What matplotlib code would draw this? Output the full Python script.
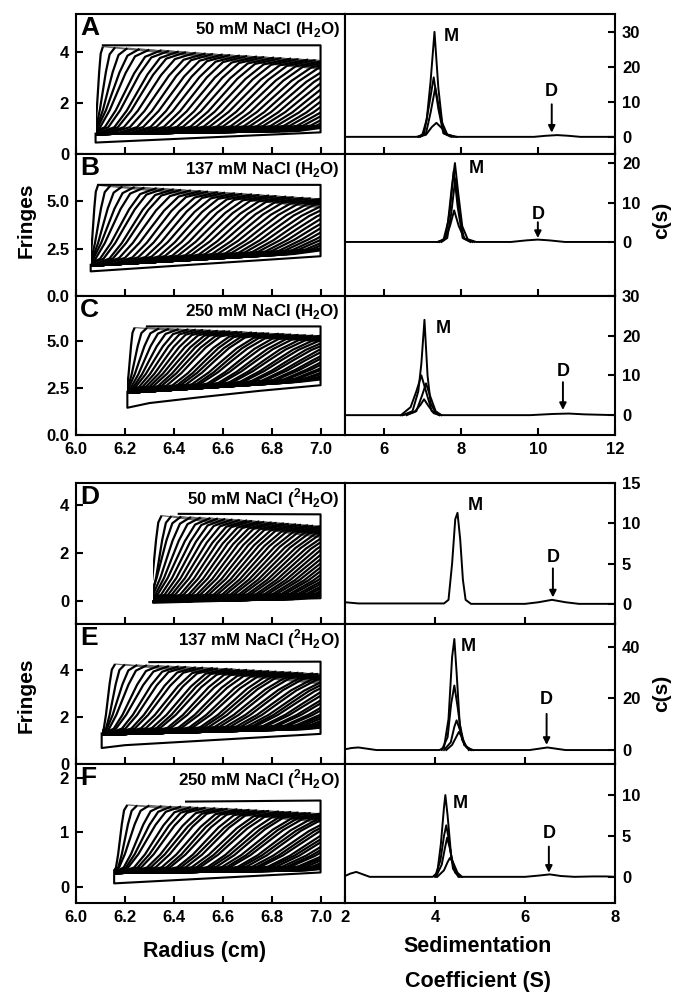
import numpy as np
import matplotlib
matplotlib.use('Agg')
import matplotlib.pyplot as plt
from matplotlib.collections import LineCollection
from matplotlib.patches import Rectangle

plt.rcParams['font.family'] = ['Liberation Sans', 'DejaVu Sans']
plt.rcParams['font.weight'] = 'bold'
plt.rcParams['mathtext.fontset'] = 'custom'
plt.rcParams['mathtext.rm'] = 'Liberation Sans:bold'
plt.rcParams['mathtext.bf'] = 'Liberation Sans:bold'
plt.rcParams['axes.linewidth'] = 1.5

# ---------------- left column: interference scans (Fringes vs radius) ----------------
# boundary shape shared by all scans (offset in half-widths, fraction of plateau)
SHAPE_DX = [-1.0, -0.55, -0.25, 0.0, 0.25, 0.55, 1.0]
SHAPE_FRAC = [0.0, 0.08, 0.28, 0.5, 0.72, 0.92, 1.0]

WID_42 = [0.02, 0.05, 0.08, 0.11, 0.13, 0.15, 0.16, 0.17, 0.18, 0.19, 0.20, 0.20, 0.21, 0.21,
          0.22, 0.22, 0.23, 0.23, 0.24, 0.24, 0.25, 0.25, 0.26, 0.26, 0.27, 0.27, 0.28, 0.28,
          0.29, 0.29, 0.30, 0.30, 0.31, 0.31, 0.32, 0.32, 0.33, 0.33, 0.34, 0.34, 0.35, 0.35]
WID_46 = [0.02, 0.05, 0.08, 0.10, 0.12, 0.14, 0.15, 0.16, 0.17, 0.18, 0.19, 0.19, 0.20, 0.20,
          0.21, 0.21, 0.22, 0.22, 0.23, 0.23, 0.24, 0.24, 0.25, 0.25, 0.26, 0.26, 0.27, 0.27,
          0.28, 0.28, 0.29, 0.29, 0.30, 0.30, 0.31, 0.31, 0.32, 0.32, 0.33, 0.33, 0.34, 0.34,
          0.35, 0.35, 0.36, 0.36]
WID_50 = [0.03, 0.05, 0.08, 0.10, 0.12, 0.14, 0.15, 0.16, 0.17, 0.18, 0.19, 0.19, 0.20, 0.20,
          0.21, 0.21, 0.22, 0.22, 0.23, 0.23, 0.24, 0.24, 0.25, 0.25, 0.26, 0.26, 0.27, 0.27,
          0.28, 0.28, 0.29, 0.29, 0.30, 0.30, 0.31, 0.31, 0.32, 0.32, 0.33, 0.33, 0.34, 0.34,
          0.35, 0.35, 0.36, 0.36, 0.37, 0.37, 0.38, 0.38]

# A: 50 mM NaCl (H2O)
A_MEN = 6.08
A_MID = [6.09, 6.11, 6.13, 6.15, 6.17, 6.20, 6.22, 6.25, 6.27, 6.30, 6.33, 6.36, 6.39, 6.42,
         6.45, 6.48, 6.51, 6.54, 6.57, 6.60, 6.63, 6.66, 6.69, 6.72, 6.75, 6.78, 6.81, 6.84,
         6.87, 6.90, 6.93, 6.96, 6.99, 7.02, 7.05, 7.08, 7.11, 7.14, 7.17, 7.20, 7.23, 7.26]
A_TOP = [4.22, 4.19, 4.16, 4.13, 4.10, 4.08, 4.05, 4.03, 4.00, 3.98, 3.95, 3.93, 3.91, 3.89,
         3.87, 3.85, 3.83, 3.81, 3.79, 3.77, 3.75, 3.73, 3.71, 3.69, 3.67, 3.65, 3.63, 3.61,
         3.59, 3.57, 3.55, 3.53, 3.51, 3.49, 3.47, 3.45, 3.43, 3.41, 3.39, 3.37, 3.35, 3.33]
A_SLOPE = 1.0
A_BASE_X = [6.08, 7.0]
A_BASE_Y = [0.78, 0.92]
A_OUT_X = [6.08, 6.08, 7.0, 7.0, 6.11]
A_OUT_Y = [0.80, 0.45, 0.85, 4.27, 4.27]

# B: 137 mM NaCl (H2O)
B_MEN = 6.06
B_MID = [6.07, 6.09, 6.11, 6.13, 6.15, 6.18, 6.20, 6.23, 6.25, 6.28, 6.31, 6.34, 6.37, 6.40,
         6.43, 6.46, 6.49, 6.52, 6.55, 6.58, 6.61, 6.64, 6.67, 6.70, 6.73, 6.76, 6.79, 6.82,
         6.85, 6.88, 6.91, 6.94, 6.97, 7.00, 7.03, 7.06, 7.09, 7.12, 7.15, 7.18, 7.21, 7.24]
B_TOP = [5.85, 5.82, 5.79, 5.76, 5.73, 5.70, 5.67, 5.64, 5.61, 5.58, 5.55, 5.52, 5.49, 5.46,
         5.43, 5.40, 5.37, 5.34, 5.31, 5.28, 5.25, 5.22, 5.19, 5.16, 5.13, 5.10, 5.07, 5.04,
         5.01, 4.98, 4.95, 4.92, 4.89, 4.86, 4.84, 4.82, 4.80, 4.78, 4.76, 4.74, 4.72, 4.70]
B_SLOPE = 1.3
B_BASE_X = [6.06, 7.0]
B_BASE_Y = [1.60, 2.30]
B_OUT_X = [6.06, 6.06, 7.0, 7.0, 6.09]
B_OUT_Y = [1.65, 1.30, 2.10, 5.87, 5.87]

# C: 250 mM NaCl (H2O)
C_MEN = 6.21
C_MID = [6.22, 6.24, 6.26, 6.28, 6.30, 6.32, 6.34, 6.36, 6.38, 6.40, 6.42, 6.44, 6.46, 6.48,
         6.51, 6.53, 6.55, 6.57, 6.60, 6.62, 6.64, 6.67, 6.69, 6.72, 6.74, 6.77, 6.79, 6.82,
         6.84, 6.87, 6.89, 6.92, 6.94, 6.97, 6.99, 7.02, 7.04, 7.07, 7.09, 7.12, 7.14, 7.17,
         7.19, 7.22, 7.24, 7.27]
C_TOP = [5.72, 5.70, 5.68, 5.66, 5.64, 5.63, 5.61, 5.59, 5.57, 5.55, 5.53, 5.52, 5.50, 5.48,
         5.46, 5.44, 5.42, 5.41, 5.39, 5.37, 5.35, 5.33, 5.31, 5.30, 5.28, 5.26, 5.24, 5.22,
         5.20, 5.19, 5.17, 5.15, 5.13, 5.11, 5.09, 5.08, 5.06, 5.04, 5.02, 5.00, 4.98, 4.97,
         4.96, 4.95, 4.94, 4.93]
C_SLOPE = 1.0
C_BASE_X = [6.21, 7.0]
C_BASE_Y = [2.25, 2.90]
C_OUT_X = [6.21, 6.21, 6.30, 6.50, 6.75, 7.0, 7.0, 6.29]
C_OUT_Y = [2.30, 1.45, 1.70, 2.00, 2.35, 2.65, 5.78, 5.78]

# D: 50 mM NaCl (2H2O)
D_MEN = 6.315
D_MID = [6.32, 6.34, 6.35, 6.37, 6.39, 6.41, 6.43, 6.45, 6.47, 6.49, 6.51, 6.53, 6.55, 6.57,
         6.59, 6.61, 6.63, 6.65, 6.67, 6.69, 6.71, 6.73, 6.75, 6.77, 6.79, 6.81, 6.83, 6.85,
         6.87, 6.89, 6.91, 6.93, 6.95, 6.97, 6.99, 7.01, 7.03, 7.05, 7.07, 7.09, 7.11, 7.13,
         7.15, 7.17, 7.19, 7.21, 7.23, 7.25, 7.27, 7.29]
D_TOP = [3.55, 3.53, 3.51, 3.49, 3.47, 3.45, 3.43, 3.41, 3.39, 3.37, 3.35, 3.33, 3.31, 3.29,
         3.27, 3.25, 3.23, 3.21, 3.19, 3.17, 3.15, 3.13, 3.11, 3.09, 3.07, 3.05, 3.03, 3.01,
         2.99, 2.97, 2.95, 2.93, 2.91, 2.89, 2.87, 2.85, 2.83, 2.81, 2.79, 2.77, 2.75, 2.73,
         2.71, 2.69, 2.67, 2.65, 2.63, 2.61, 2.59, 2.57]
D_SLOPE = 1.4
D_BASE_X = [6.315, 7.0]
D_BASE_Y = [-0.02, 0.10]
D_OUT_X = [6.315, 6.315, 7.0, 7.0, 6.42]
D_OUT_Y = [0.00, -0.07, 0.12, 3.60, 3.62]

# E: 137 mM NaCl (2H2O)
E_MEN = 6.105
E_MID = [6.13, 6.15, 6.17, 6.19, 6.22, 6.24, 6.27, 6.29, 6.32, 6.34, 6.37, 6.39, 6.42, 6.44,
         6.46, 6.49, 6.51, 6.54, 6.56, 6.59, 6.61, 6.64, 6.66, 6.68, 6.71, 6.73, 6.76, 6.78,
         6.81, 6.83, 6.86, 6.88, 6.90, 6.93, 6.95, 6.98, 7.00, 7.03, 7.05, 7.08, 7.10, 7.12,
         7.15, 7.17, 7.20, 7.22, 7.25, 7.27, 7.30, 7.32]
E_TOP = [4.25, 4.23, 4.21, 4.20, 4.18, 4.16, 4.15, 4.13, 4.11, 4.10, 4.08, 4.06, 4.05, 4.03,
         4.01, 4.00, 3.98, 3.96, 3.95, 3.93, 3.91, 3.90, 3.88, 3.86, 3.85, 3.83, 3.81, 3.80,
         3.78, 3.76, 3.75, 3.73, 3.71, 3.70, 3.68, 3.66, 3.65, 3.63, 3.61, 3.60, 3.58, 3.56,
         3.55, 3.53, 3.51, 3.50, 3.49, 3.48, 3.47, 3.46]
E_SLOPE = 1.0
E_BASE_X = [6.105, 7.0]
E_BASE_Y = [1.25, 1.50]
E_OUT_X = [6.105, 6.105, 6.20, 6.50, 7.0, 7.0, 6.30]
E_OUT_Y = [1.30, 0.68, 0.80, 0.98, 1.28, 4.35, 4.33]

# F: 250 mM NaCl (2H2O)
F_MEN = 6.156
F_MID = [6.18, 6.20, 6.22, 6.25, 6.27, 6.29, 6.32, 6.34, 6.36, 6.39, 6.41, 6.43, 6.46, 6.48,
         6.50, 6.53, 6.55, 6.57, 6.60, 6.62, 6.64, 6.67, 6.69, 6.71, 6.74, 6.76, 6.78, 6.81,
         6.83, 6.85, 6.88, 6.90, 6.92, 6.95, 6.97, 6.99, 7.02, 7.04, 7.06, 7.09, 7.11, 7.13,
         7.16, 7.18, 7.20, 7.23, 7.25, 7.27, 7.30, 7.32]
F_TOP = [1.50, 1.49, 1.49, 1.48, 1.47, 1.47, 1.46, 1.45, 1.45, 1.44, 1.43, 1.43, 1.42, 1.41,
         1.41, 1.40, 1.39, 1.39, 1.38, 1.37, 1.37, 1.36, 1.35, 1.35, 1.34, 1.33, 1.33, 1.32,
         1.31, 1.31, 1.30, 1.29, 1.29, 1.28, 1.27, 1.27, 1.26, 1.25, 1.25, 1.24, 1.23, 1.23,
         1.22, 1.21, 1.21, 1.20, 1.20, 1.20, 1.20, 1.20]
F_SLOPE = 0.4
F_BASE_X = [6.156, 7.0]
F_BASE_Y = [0.25, 0.30]
F_OUT_X = [6.156, 6.156, 7.0, 7.0, 6.45]
F_OUT_Y = [0.30, 0.06, 0.26, 1.58, 1.56]

# ---------------- right column: c(s) distributions ----------------
A_CS = [
    ([5.0, 6.85, 7.0, 7.12, 7.22, 7.32, 7.42, 7.52, 7.65, 7.85, 9.9, 10.2, 10.5, 10.8, 11.1, 12.0],
     [0, 0, 0.4, 5, 16, 30, 14, 4, 0.7, 0, 0, 0.3, 0.5, 0.3, 0, 0]),
    ([6.9, 7.05, 7.18, 7.3, 7.42, 7.55, 7.75], [0, 1, 9, 17, 8, 1, 0]),
    ([6.95, 7.1, 7.22, 7.34, 7.46, 7.58, 7.8], [0, 1, 7, 14, 7, 1, 0]),
    ([6.9, 7.1, 7.25, 7.37, 7.5, 7.65, 7.9], [0, 0.6, 2.8, 4, 2.6, 0.6, 0]),
]
B_CS = [
    ([5.0, 7.4, 7.55, 7.67, 7.77, 7.85, 7.94, 8.04, 8.18, 8.4, 9.3, 9.7, 10.0, 10.3, 10.7, 12.0],
     [0, 0, 0.4, 5, 14, 20, 12, 4, 0.7, 0, 0, 0.4, 0.6, 0.4, 0, 0]),
    ([7.45, 7.6, 7.72, 7.82, 7.92, 8.05, 8.25], [0, 1, 8, 18, 9, 1, 0]),
    ([7.5, 7.65, 7.75, 7.86, 7.95, 8.08, 8.3], [0, 1, 7, 16, 8, 1, 0]),
    ([7.4, 7.6, 7.72, 7.83, 7.95, 8.1, 8.35], [0, 0.8, 4, 8, 4, 0.8, 0]),
]
C_CS = [
    ([5.0, 6.5, 6.75, 6.9, 6.98, 7.06, 7.14, 7.22, 7.35, 7.5, 9.8, 10.4, 10.8, 11.2, 12.0],
     [0, 0, 1, 6, 13, 24, 10, 3, 0.5, 0, 0, 0.3, 0.4, 0.2, 0]),
    ([6.45, 6.7, 6.85, 6.98, 7.1, 7.25, 7.45], [0, 2, 6, 10, 6, 1, 0]),
    ([6.6, 6.85, 7.0, 7.1, 7.2, 7.35, 7.5], [0, 1, 5, 8, 5, 1, 0]),
    ([6.5, 6.8, 6.95, 7.05, 7.15, 7.3, 7.45], [0, 0.8, 2.5, 4, 2.5, 0.5, 0]),
]
D_CS = [
    ([2.0, 2.3, 4.2, 4.3, 4.38, 4.45, 4.5, 4.56, 4.62, 4.68, 4.8, 6.0, 6.3, 6.6, 6.9, 7.2, 8.0],
     [0.2, 0.05, 0.05, 0.5, 5, 10.5, 11.3, 8, 3, 0.5, 0, 0, 0.2, 0.5, 0.2, 0, 0]),
]
E_CS = [
    ([2.0, 2.15, 2.3, 2.5, 2.7, 4.1, 4.2, 4.3, 4.38, 4.43, 4.48, 4.55, 4.65, 4.8,
      6.1, 6.3, 6.5, 6.7, 6.9, 8.0],
     [0.3, 0.8, 1.0, 0.5, 0, 0, 1, 12, 36, 43, 30, 10, 2, 0, 0, 0.5, 1.0, 0.5, 0, 0]),
    ([4.15, 4.28, 4.36, 4.43, 4.5, 4.6, 4.75], [0, 5, 18, 25, 17, 4, 0]),
    ([4.2, 4.35, 4.43, 4.48, 4.55, 4.65, 4.8], [0, 3, 9, 11.5, 8, 2, 0]),
    ([4.25, 4.38, 4.47, 4.53, 4.6, 4.7, 4.85], [0, 2, 5, 7, 5, 1, 0]),
]
F_CS = [
    ([2.0, 2.12, 2.25, 2.4, 2.55, 3.95, 4.05, 4.13, 4.2, 4.23, 4.28, 4.36, 4.45, 4.58,
      6.0, 6.3, 6.55, 6.8, 7.1, 7.5, 7.8, 8.0],
     [0.1, 0.4, 0.6, 0.3, 0, 0, 0.5, 4, 8.5, 10, 7.5, 2.5, 0.5, 0, 0, 0.15, 0.3, 0.1, 0,
      0.05, 0.05, 0]),
    ([4.0, 4.12, 4.2, 4.25, 4.31, 4.4, 4.52], [0, 2, 5, 6.3, 4.5, 1, 0]),
    ([4.02, 4.15, 4.22, 4.27, 4.33, 4.42, 4.55], [0, 1.5, 3.5, 4.8, 3.5, 1, 0]),
    ([4.05, 4.2, 4.28, 4.33, 4.4, 4.5, 4.6], [0, 0.8, 1.8, 2.3, 1.8, 0.5, 0]),
]

# label positions: (M x, M y), (D x, D y), arrow (start y, end y)
A_MARK = ((7.55, 28.6), (10.36, 12.9), (9.3, 1.2))
B_MARK = ((8.2, 18.5), (10.0, 7.0), (5.0, 1.0))
C_MARK = ((7.35, 21.8), (10.65, 10.9), (8.3, 1.3))
D_MARK = ((4.72, 12.2), (6.62, 5.8), (4.4, 0.8))
E_MARK = ((4.57, 40.0), (6.48, 19.6), (14.0, 2.0))
F_MARK = ((4.4, 9.0), (6.53, 5.3), (3.7, 0.5))

CONDITIONS = ['50 mM NaCl (H$_{2}$O)', '137 mM NaCl (H$_{2}$O)', '250 mM NaCl (H$_{2}$O)',
              '50 mM NaCl ($^{2}$H$_{2}$O)', '137 mM NaCl ($^{2}$H$_{2}$O)',
              '250 mM NaCl ($^{2}$H$_{2}$O)']
LETTERS = ['A', 'B', 'C', 'D', 'E', 'F']

LEFT_YLIM = [(0, 5.5), (0, 7.5), (0, 7.4), (-0.95, 4.9), (0, 5.95), (-0.3, 2.25)]
LEFT_YTICKS = [[0, 2, 4], [0.0, 2.5, 5.0], [0.0, 2.5, 5.0], [0, 2, 4], [0, 2, 4], [0, 1, 2]]
RIGHT_YLIM = [(-4.9, 35.1), (-13.7, 22.3), (-5, 30), (-2.5, 15), (-5.4, 48.8), (-3.2, 13.8)]
RIGHT_YTICKS = [[0, 10, 20, 30], [0, 10, 20], [0, 10, 20, 30], [0, 5, 10, 15], [0, 20, 40],
                [0, 5, 10]]

SCANS = [
    (A_MEN, A_MID, WID_42, A_TOP, A_SLOPE, A_BASE_X, A_BASE_Y, A_OUT_X, A_OUT_Y),
    (B_MEN, B_MID, WID_42, B_TOP, B_SLOPE, B_BASE_X, B_BASE_Y, B_OUT_X, B_OUT_Y),
    (C_MEN, C_MID, WID_46, C_TOP, C_SLOPE, C_BASE_X, C_BASE_Y, C_OUT_X, C_OUT_Y),
    (D_MEN, D_MID, WID_50, D_TOP, D_SLOPE, D_BASE_X, D_BASE_Y, D_OUT_X, D_OUT_Y),
    (E_MEN, E_MID, WID_50, E_TOP, E_SLOPE, E_BASE_X, E_BASE_Y, E_OUT_X, E_OUT_Y),
    (F_MEN, F_MID, WID_50, F_TOP, F_SLOPE, F_BASE_X, F_BASE_Y, F_OUT_X, F_OUT_Y),
]
DISTS = [A_CS, B_CS, C_CS, D_CS, E_CS, F_CS]
MARKS = [A_MARK, B_MARK, C_MARK, D_MARK, E_MARK, F_MARK]

# panel rows in pixels (top, bottom) of the 680x992 figure
ROWS = [(14, 154), (154, 296), (296, 435), (483, 624), (624, 764), (764, 903)]
W, H = 680, 992


def draw_scans(ax, men, mids, wids, tops, slope, base_x, base_y, out_x, out_y, ylim):
    """Draws the boundary scans of one panel, clipped between meniscus and cell base."""
    rises, plateaus = [], []
    for mid, w, top in zip(mids, wids, tops):
        xs = mid + np.array(SHAPE_DX) * w
        base = np.interp(xs, base_x, base_y)
        ys = base + np.array(SHAPE_FRAC) * (top - base)
        xs = [men] + list(xs)
        ys = [np.interp(men, base_x, base_y)] + list(ys)
        rises.append(np.column_stack([xs, ys]))
        if xs[-1] < 7.0:
            plateaus.append([(xs[-1], ys[-1]), (7.0, top - slope * (7.0 - xs[-1]))])
    clip = Rectangle((men, ylim[0]), 7.0 - men, ylim[1] - ylim[0], transform=ax.transData)
    # plateau parts look grey in the original (noisy data points)
    lc_top = LineCollection(plateaus, colors='0.4', linewidths=0.9)
    ax.add_collection(lc_top)
    lc_top.set_clip_path(clip)
    lc = LineCollection(rises, colors='black', linewidths=1.6)
    ax.add_collection(lc)
    lc.set_clip_path(clip)
    ax.plot(out_x, out_y, color='black', lw=1.5)


def style_axis(ax):
    ax.tick_params(direction='in', length=5, width=1.5, labelsize=12, pad=5)
    for lab in ax.get_xticklabels() + ax.get_yticklabels():
        lab.set_fontweight('bold')


fig = plt.figure(figsize=(W / 100, H / 100), dpi=100)

for i in range(6):
    top_px, bot_px = ROWS[i]
    bottom = 1 - bot_px / H
    height = (bot_px - top_px) / H

    # left: raw scans
    axl = fig.add_axes([76 / W, bottom, 269 / W, height])
    draw_scans(axl, *SCANS[i], LEFT_YLIM[i])
    axl.set_xlim(6.0, 7.1)
    axl.set_ylim(*LEFT_YLIM[i])
    axl.set_xticks([6.0, 6.2, 6.4, 6.6, 6.8, 7.0])
    axl.set_yticks(LEFT_YTICKS[i])
    if i in (1, 2):
        axl.set_yticklabels(['%.1f' % v for v in LEFT_YTICKS[i]])
    if i in (2, 5):
        axl.set_xticklabels(['%.1f' % v for v in [6.0, 6.2, 6.4, 6.6, 6.8, 7.0]])
    else:
        axl.set_xticklabels([])
    style_axis(axl)
    axl.text(0.015, 0.985, LETTERS[i], transform=axl.transAxes, ha='left', va='top',
             fontsize=19, fontweight='bold')
    axl.text(0.981, 0.89, CONDITIONS[i], transform=axl.transAxes, ha='right', va='center',
             fontsize=12.2, fontweight='bold')

    # right: c(s) distributions
    axr = fig.add_axes([345 / W, bottom, 270 / W, height])
    for s, c in DISTS[i]:
        axr.plot(s, c, color='black', lw=1.4)
    if i < 3:
        axr.set_xlim(5, 12)
        axr.set_xticks([6, 8, 10, 12])
    else:
        axr.set_xlim(2, 8)
        axr.set_xticks([2, 4, 6, 8])
    axr.set_ylim(*RIGHT_YLIM[i])
    axr.set_yticks(RIGHT_YTICKS[i])
    axr.yaxis.tick_right()
    if i not in (2, 5):
        axr.set_xticklabels([])
    style_axis(axr)
    (mx, my), (dx, dy), (a0, a1) = MARKS[i]
    axr.text(mx, my, 'M', ha='left', va='center', fontsize=13, fontweight='bold')
    axr.text(dx, dy, 'D', ha='center', va='center', fontsize=13, fontweight='bold')
    axr.annotate('', xy=(dx, a1), xytext=(dx, a0),
                 arrowprops=dict(arrowstyle='-|>', color='black', lw=1.4,
                                 mutation_scale=10, shrinkA=0, shrinkB=0))

# axis titles
fig.text(26 / W, 1 - 220 / H, 'Fringes', rotation=90, ha='center', va='center',
         fontsize=15, fontweight='bold')
fig.text(26 / W, 1 - 695 / H, 'Fringes', rotation=90, ha='center', va='center',
         fontsize=15, fontweight='bold')
fig.text(662 / W, 1 - 220 / H, 'c(s)', rotation=90, ha='center', va='center',
         fontsize=15, fontweight='bold')
fig.text(662 / W, 1 - 693 / H, 'c(s)', rotation=90, ha='center', va='center',
         fontsize=15, fontweight='bold')
fig.text(205 / W, 1 - 952 / H, 'Radius (cm)', ha='center', va='center',
         fontsize=15.5, fontweight='bold')
fig.text(478 / W, 1 - 947 / H, 'Sedimentation', ha='center', va='center',
         fontsize=15.5, fontweight='bold')
fig.text(478 / W, 1 - 982 / H, 'Coefficient (S)', ha='center', va='center',
         fontsize=15.5, fontweight='bold')

fig.savefig('out.png', dpi=100)
